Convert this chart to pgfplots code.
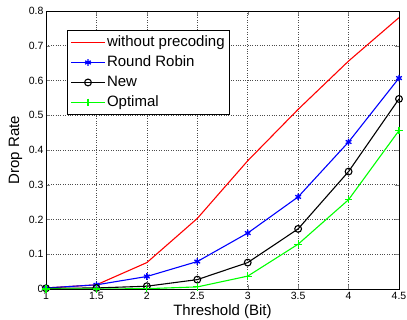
\documentclass[border=0pt]{standalone}
\usepackage{fontspec}
\setmainfont{Liberation Sans}
\usepackage{pgfplots}
\pgfplotsset{compat=1.18}
\begin{document}
\begin{tikzpicture}
\begin{axis}[
  scale only axis,
  width=353pt, height=278pt,
  xmin=1, xmax=4.5, ymin=0, ymax=0.8,
  xtick={1,1.5,2,2.5,3,3.5,4,4.5},
  ytick={0,0.1,0.2,0.3,0.4,0.5,0.6,0.7,0.8},
  /pgf/number format/assume math mode=true,
  yticklabel style={/pgf/number format/fixed, font=\fontsize{10.5}{11}\selectfont, xshift=1pt},
  xticklabel style={font=\fontsize{10.5}{11}\selectfont},
  tick align=inside,
  major tick length=4pt,
  axis line style={line width=0.9pt},
  grid=major,
  major grid style={dotted, black!70, line width=0.6pt},
  xlabel={Threshold (Bit)},
  ylabel={Drop Rate},
  label style={font=\fontsize{15}{16}\selectfont},
  xlabel style={at={(axis description cs:0.5,-0.0971)}, anchor=base},
  ylabel style={at={(axis description cs:-0.0864,0.5)}, anchor=center},
  legend style={at={(axis description cs:0.0595,0.9316)}, anchor=north west,
    font=\fontsize{15}{16}\selectfont, draw=black, line width=0.9pt,
    inner xsep=3pt, inner ysep=2pt, row sep=0pt, cells={anchor=west},
    nodes={inner xsep=1.5pt, inner ysep=3pt, text height=11pt, text depth=3pt}},
  legend cell align=left,
  legend image code/.code={\draw[mark repeat=2,mark phase=2] plot coordinates {(0pt,0pt) (17pt,0pt) (34pt,0pt)};},
  every axis plot/.append style={line width=1.1pt},
]
\coordinate (SW) at (rel axis cs:0,0);
\coordinate (NE) at (rel axis cs:1,1);
\addplot[color={rgb,255:red,255;green,0;blue,0}] coordinates {(1,0.003) (1.5,0.012) (2,0.076) (2.5,0.203) (3,0.369) (3.5,0.517) (4,0.656) (4.5,0.781)};
\addlegendentry{without precoding\hspace{4pt}}
\addplot[color={rgb,255:red,0;green,0;blue,255}, mark=asterisk, mark size=3.3pt, mark options={line width=1.3pt}] coordinates {(1,0.003) (1.5,0.012) (2,0.036) (2.5,0.079) (3,0.161) (3.5,0.265) (4,0.423) (4.5,0.607)};
\addlegendentry{Round Robin}
\addplot[color=black, mark=o, mark size=3.4pt] coordinates {(1,0.002) (1.5,0.003) (2,0.008) (2.5,0.027) (3,0.076) (3.5,0.173) (4,0.338) (4.5,0.547)};
\addlegendentry{New}
\addplot[color={rgb,255:red,0;green,255;blue,0}, mark=+, mark size=3.8pt] coordinates {(1,0.0) (1.5,0.0) (2,0.001) (2.5,0.006) (3,0.037) (3.5,0.129) (4,0.257) (4.5,0.456)};
\addlegendentry{Optimal}
\end{axis}
\pgfresetboundingbox
\path[use as bounding box] (SW) ++(-46pt,-31pt) rectangle ([shift={(8pt,11pt)}]NE);
\end{tikzpicture}
\end{document}
